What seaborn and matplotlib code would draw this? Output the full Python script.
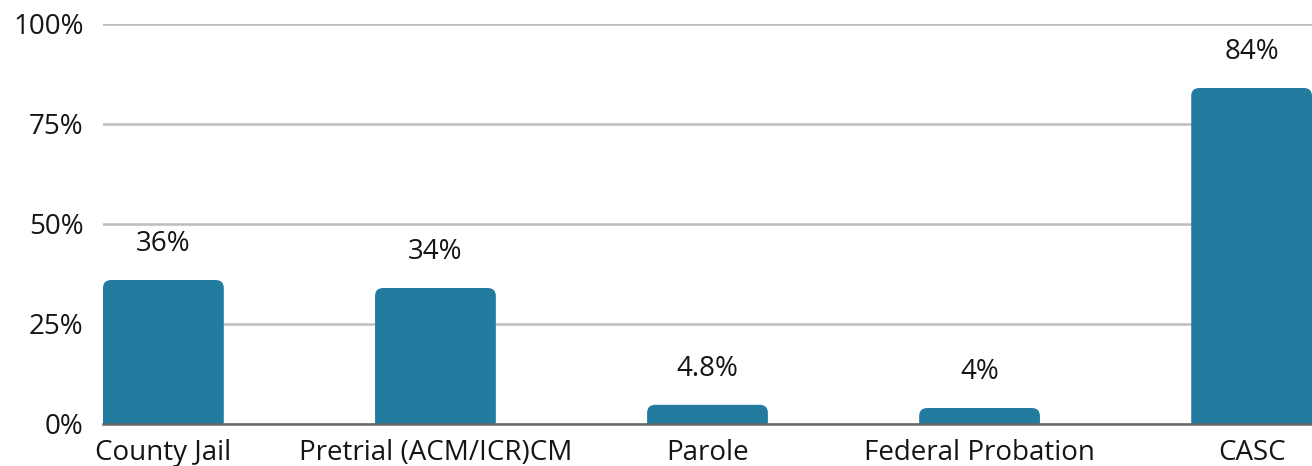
import matplotlib
matplotlib.use("Agg")
import matplotlib.pyplot as plt
from matplotlib.patches import FancyBboxPatch
import seaborn as sns
import pandas as pd

categories = ["County Jail", "Pretrial (ACM/ICR)CM", "Parole", "Federal Probation", "CASC"]
values = [36, 34, 4.8, 4, 84]
value_labels = ["36%", "34%", "4.8%", "4%", "84%"]
yticks = [0, 25, 50, 75, 100]
ytick_labels = ["0%", "25%", "50%", "75%", "100%"]

df = pd.DataFrame({"category": categories, "value": values})

sns.set_theme(style="white")
plt.rcParams["font.family"] = ["Open Sans", "DejaVu Sans"]

bar_color = "#247BA0"
text_color = "#151515"

fig = plt.figure(figsize=(13.12, 4.66), dpi=100)
ax = fig.add_axes([103 / 1312, 42 / 466, 1 - 103 / 1312, 400 / 466])

sns.barplot(data=df, x="category", y="value", color=bar_color, width=0.444,
            saturation=1, ax=ax)

# swap plain bars for bars with rounded top corners
for p in list(ax.patches):
    x0, w, h = p.get_x(), p.get_width(), p.get_height()
    p.set_visible(False)
    rb = FancyBboxPatch((x0, -4), w, h + 4,
                        boxstyle="round,pad=0,rounding_size=0.03",
                        mutation_aspect=67, facecolor=bar_color,
                        edgecolor="none", zorder=3, clip_on=True)
    ax.add_patch(rb)

ax.set_xlim(-0.222, 4.222)
ax.set_ylim(0, 100)
ax.set_yticks(yticks)
ax.set_yticklabels(ytick_labels)
ax.yaxis.grid(True, color="#bdbdbd", linewidth=1.8, zorder=0)
ax.set_axisbelow(True)
for s in ["top", "right", "left"]:
    ax.spines[s].set_visible(False)
ax.spines["bottom"].set_color("#666666")
ax.spines["bottom"].set_linewidth(1.8)
ax.spines["bottom"].set_zorder(4)

ax.tick_params(axis="y", length=0, pad=14, labelsize=20, labelcolor=text_color)
ax.tick_params(axis="x", length=0, pad=11, labelsize=20, labelcolor=text_color)
ax.set_xlabel("")
ax.set_ylabel("")

for i, (v, lab) in enumerate(zip(values, value_labels)):
    ax.annotate(lab, (i, v), xytext=(0, 26), textcoords="offset points",
                ha="center", va="center", fontsize=20, color=text_color,
                annotation_clip=False)

fig.savefig("out.png", dpi=100)
